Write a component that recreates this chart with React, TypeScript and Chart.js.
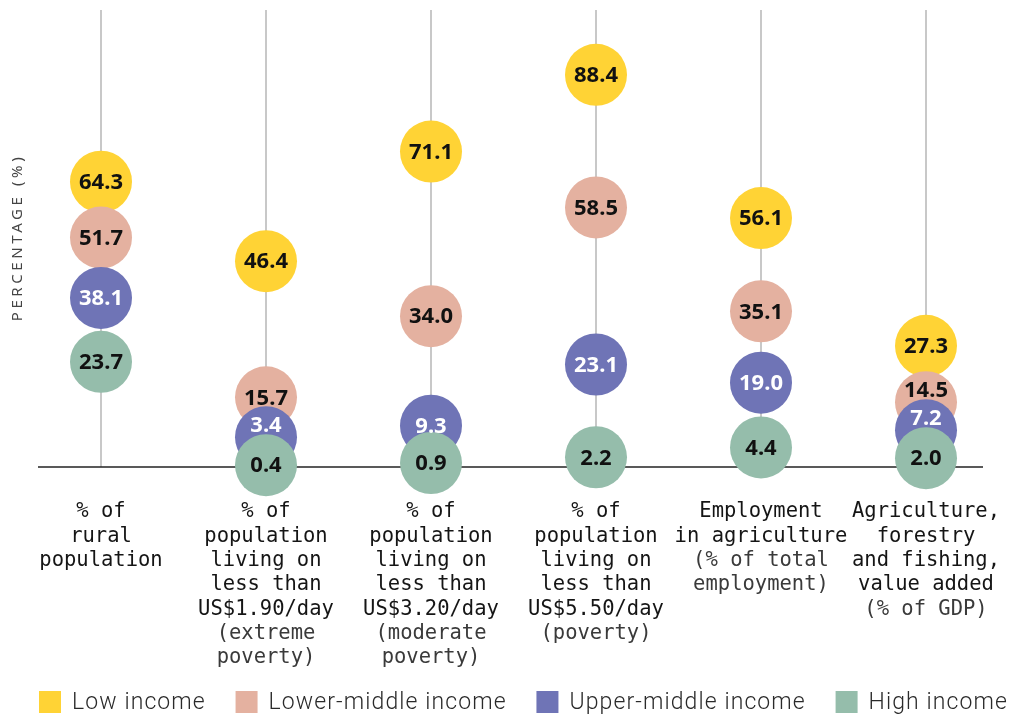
import React, { useEffect, useRef } from "react";
import { Chart, registerables } from "chart.js";

Chart.register(...registerables);

// ---------- DATA ----------
const categories = [
  "% of rural population",
  "% of population living on less than US$1.90/day (extreme poverty)",
  "% of population living on less than US$3.20/day (moderate poverty)",
  "% of population living on less than US$5.50/day (poverty)",
  "Employment in agriculture (% of total employment)",
  "Agriculture, forestry and fishing, value added (% of GDP)",
];
const categoryMainLines = [
  ["% of", "rural", "population"],
  ["% of", "population", "living on", "less than", "US$1.90/day"],
  ["% of", "population", "living on", "less than", "US$3.20/day"],
  ["% of", "population", "living on", "less than", "US$5.50/day"],
  ["Employment", "in agriculture"],
  ["Agriculture,", "forestry", "and fishing,", "value added"],
];
const categorySubLines = [
  [],
  ["(extreme", "poverty)"],
  ["(moderate", "poverty)"],
  ["(poverty)"],
  ["(% of total", "employment)"],
  ["(% of GDP)"],
];
const seriesNames = ["Low income", "Lower-middle income", "Upper-middle income", "High income"];
const lowIncome = [64.3, 46.4, 71.1, 88.4, 56.1, 27.3];
const lowerMiddleIncome = [51.7, 15.7, 34.0, 58.5, 35.1, 14.5];
const upperMiddleIncome = [38.1, 3.4, 9.3, 23.1, 19.0, 7.2];
const highIncome = [23.7, 0.4, 0.9, 2.2, 4.4, 2.0];
const seriesValues = [lowIncome, lowerMiddleIncome, upperMiddleIncome, highIncome];
const yAxisTitle = "PERCENTAGE (%)";

// ---------- STYLE ----------
const seriesColors = ["#FFD335", "#E4B1A0", "#6F74B6", "#95BDAB"];
const valueTextColors = ["#111111", "#111111", "#FFFFFF", "#111111"];
const BUBBLE_R = 31;
const MIN_GAP = 28;
const VALUE_FONT = "bold 22px 'Noto Sans'";
const LABEL_FONT = "20.5px 'DejaVu Sans Mono'";
const LEGEND_FONT = "300 23px 'Roboto'";

const dodgePlugin = {
  id: "dodge",
  afterDatasetsUpdate(chart: any) {
    const n = chart.data.labels.length;
    for (let c = 0; c < n; c++) {
      const els: any[] = [];
      chart.data.datasets.forEach((_: any, d: number) => {
        const el = chart.getDatasetMeta(d).data[c];
        if (el) els.push(el);
      });
      els.sort((a, b) => b.y - a.y);
      let prev = Infinity;
      for (const el of els) {
        if (prev - el.y < MIN_GAP) el.y = prev - MIN_GAP;
        prev = el.y;
      }
    }
  },
};

const decorPlugin = {
  id: "decor",
  beforeDatasetsDraw(chart: any) {
    const { ctx, chartArea, scales } = chart;
    const y0 = scales.y.getPixelForValue(0);
    ctx.save();
    ctx.strokeStyle = "#222222";
    ctx.lineWidth = 1.5;
    ctx.beginPath();
    ctx.moveTo(chartArea.left - 63, y0);
    ctx.lineTo(chartArea.right + 57, y0);
    ctx.stroke();
    ctx.restore();
  },
  afterDatasetsDraw(chart: any) {
    const { ctx } = chart;
    const n = chart.data.labels.length;
    ctx.save();
    ctx.font = VALUE_FONT;
    ctx.textAlign = "center";
    ctx.textBaseline = "middle";
    for (let c = 0; c < n; c++) {
      const items: any[] = [];
      chart.data.datasets.forEach((ds: any, d: number) => {
        const el = chart.getDatasetMeta(d).data[c];
        if (el) items.push({ el, d, v: ds.data[c] });
      });
      items.sort((a, b) => a.el.y - b.el.y);
      items.forEach((it, i) => {
        const below = items[i + 1];
        let shift = 0;
        if (below && below.el.y - it.el.y < 36) shift = -12;
        ctx.fillStyle = valueTextColors[it.d];
        ctx.fillText(it.v.toFixed(1), it.el.x, it.el.y + shift + 1);
      });
    }
    ctx.restore();
  },
  afterDraw(chart: any) {
    const { ctx, chartArea, scales } = chart;
    ctx.save();
    // y axis title
    ctx.save();
    ctx.translate(18, (chartArea.top + chartArea.bottom) / 2 - 1);
    ctx.rotate(-Math.PI / 2);
    ctx.font = "15px 'Noto Sans'";
    (ctx as any).letterSpacing = "3.6px";
    ctx.fillStyle = "#444444";
    ctx.textAlign = "center";
    ctx.textBaseline = "middle";
    ctx.fillText(yAxisTitle, 0, 0);
    ctx.restore();

    // category labels
    ctx.textAlign = "center";
    ctx.textBaseline = "middle";
    ctx.font = LABEL_FONT;
    const lh = 24.3;
    categoryMainLines.forEach((lines, i) => {
      const x = scales.x.getPixelForValue(i);
      let y = chartArea.bottom + 45;
      lines.forEach((t) => {
        ctx.fillStyle = "#151515";
        ctx.fillText(t, x, y);
        y += lh;
      });
      categorySubLines[i].forEach((t) => {
        ctx.fillStyle = "#3a3a3a";
        ctx.fillText(t, x, y);
        y += lh;
      });
    });

    // legend
    ctx.font = LEGEND_FONT;
    (ctx as any).letterSpacing = "1.1px";
    ctx.textAlign = "left";
    const box = 22;
    const textGap = 11;
    const widths = seriesNames.map((s) => box + textGap + ctx.measureText(s).width);
    const left = 39;
    const right = 1008;
    const gap = (right - left - widths.reduce((a, b) => a + b, 0)) / (seriesNames.length - 1);
    let x = left;
    const ly = 702;
    seriesNames.forEach((s, i) => {
      ctx.fillStyle = seriesColors[i];
      ctx.fillRect(x, ly - box / 2, box, box);
      ctx.fillStyle = "#2a2a2a";
      ctx.fillText(s, x + box + textGap, ly + 1);
      x += widths[i] + gap;
    });
    ctx.restore();
  },
};

export default function App() {
  const ref = useRef<HTMLCanvasElement>(null);
  useEffect(() => {
    if (!ref.current) return;
    const chart = new Chart(ref.current, {
      type: "line",
      data: {
        labels: categories,
        datasets: seriesNames.map((name, i) => ({
          label: name,
          data: seriesValues[i],
          showLine: false,
          pointRadius: BUBBLE_R,
          pointHoverRadius: BUBBLE_R,
          pointBackgroundColor: seriesColors[i],
          pointBorderWidth: 0,
          borderColor: seriesColors[i],
          backgroundColor: seriesColors[i],
          order: seriesNames.length - 1 - i,
          clip: false as any,
        })),
      },
      options: {
        responsive: false,
        animation: false,
        events: [],
        layout: { autoPadding: false, padding: { left: 101, right: 85, top: 10, bottom: 249 } },
        plugins: {
          legend: { display: false },
          tooltip: { enabled: false },
        },
        scales: {
          x: {
            type: "category",
            offset: false,
            ticks: { display: false },
            border: { display: false },
            grid: { color: "#C8C8C8", lineWidth: 2, drawTicks: false, offset: false },
          },
          y: {
            display: false,
            min: 0,
            max: 103,
          },
        },
      },
      plugins: [dodgePlugin, decorPlugin],
    });
    return () => chart.destroy();
  }, []);
  return (
    <div style={{ position: "absolute", left: 0, top: 0, width: 1011, height: 716, background: "#fff" }}>
      <canvas ref={ref} width={1011} height={716} />
    </div>
  );
}
